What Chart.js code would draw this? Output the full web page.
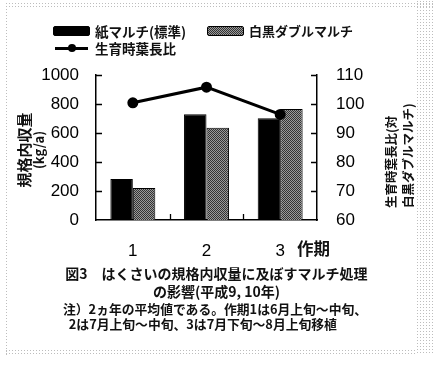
<!DOCTYPE html>
<html>
<head>
<meta charset="utf-8">
<script src="https://cdn.jsdelivr.net/npm/chart.js@4.4.0/dist/chart.umd.min.js"></script>
<style>
  html, body { margin: 0; padding: 0; background: #fff; }
  #wrap { position: relative; width: 433px; height: 365px; overflow: hidden; font-family: "Noto Sans CJK JP", sans-serif; font-weight: bold; color: #111; }
  #wrap canvas { position: absolute; left: 0; top: 0; }
  .dots { position: absolute; background: radial-gradient(circle, #bdbdbd 0 0.8px, transparent 1px) 0 0 / 3px 3px; }
  .abs { position: absolute; white-space: nowrap; }
  .swatch { position: absolute; height: 8px; width: 35px; border: 1px solid #000; border-radius: 2px; }
  .rot { position: absolute; transform-origin: 0 0; transform: rotate(-90deg); white-space: nowrap; }
</style>
</head>
<body>
<div id="wrap">
  <div class="dots" style="left:8px;top:2px;width:425px;height:5px"></div>
  <div class="dots" style="left:5px;top:2px;width:4px;height:353px"></div>
  <div class="dots" style="left:416px;top:0;width:17px;height:355px"></div>
  <div class="dots" style="left:5px;top:349px;width:412px;height:6px"></div>

  <canvas id="chart" width="433" height="365"></canvas>

  <!-- legend -->
  <div class="swatch" style="left:53px;top:26px;background:#000"></div>
  <div class="abs" style="left:95px;top:21px;font-size:13.5px">紙マルチ(標準)</div>
  <div class="swatch" style="left:207px;top:26px;background:repeating-conic-gradient(#333 0 25%, #9a9a9a 0 50%) 0 0 / 2px 2px"></div>
  <div class="abs" style="left:249px;top:21px;font-size:13px">白黒ダブルマルチ</div>
  <div class="abs" style="left:55px;top:46.5px;width:33px;height:3px;background:#000"></div>
  <div class="abs" style="left:68px;top:44px;width:8px;height:8px;border-radius:50%;background:#000"></div>
  <div class="abs" style="left:95px;top:38px;font-size:13.5px">生育時葉長比</div>

  <!-- axis titles -->
  <div class="rot" style="left:15px;top:189px;width:78px;text-align:center;font-size:15px;line-height:18px">規格内収量</div>
  <div class="rot" style="left:31px;top:189px;width:78px;text-align:center;font-size:13px;line-height:16px">(kg/a)</div>
  <div class="rot" style="left:382px;top:208px;font-size:12.5px;line-height:17px">生育時葉長比(対<br>白黒ダブルマルチ)</div>
  <div class="abs" style="left:297px;top:236px;font-size:16.5px">作期</div>

  <!-- caption -->
  <div class="abs" style="left:0;width:433px;text-align:center;top:264px;font-size:14px;line-height:18px">図3　はくさいの規格内収量に及ぼすマルチ処理<br>の影響(平成9, 10年)</div>
  <div class="abs" style="left:63px;top:301px;font-size:12.8px;line-height:15px">注）2ヵ年の平均値である。作期1は6月上旬～中旬、<br>&nbsp;&nbsp;2は7月上旬～中旬、3は7月下旬～8月上旬移植</div>
</div>

<script>
// data
const categories = ["1", "2", "3"];
const paperMulch = [283, 729, 701];        // 紙マルチ(標準) kg/a
const doubleMulch = [221, 637, 766];       // 白黒ダブルマルチ kg/a
const leafRatio = [100.4, 105.8, 96.4];    // 生育時葉長比
const leftTicks = [0, 200, 400, 600, 800, 1000];
const rightTicks = [60, 70, 80, 90, 100, 110];

// fine dark-grey stipple like the printed bars
function makeGrey() {
  const c = document.createElement("canvas");
  c.width = 2; c.height = 2;
  const g = c.getContext("2d");
  g.fillStyle = "#9a9a9a"; g.fillRect(0, 0, 2, 2);
  g.fillStyle = "#333"; g.fillRect(0, 0, 1, 1); g.fillRect(1, 1, 1, 1);
  return g.createPattern(c, "repeat");
}

// short tick marks pointing inward
const innerTicks = {
  id: "innerTicks",
  afterDatasetsDraw(chart) {
    const { ctx, chartArea: a, scales } = chart;
    ctx.save();
    ctx.strokeStyle = "#000";
    ctx.lineWidth = 1.3;
    ctx.beginPath();
    leftTicks.slice(1).forEach(v => {
      const y = Math.round(scales.y.getPixelForValue(v)) + 0.5;
      ctx.moveTo(a.left, y); ctx.lineTo(a.left + 6, y);
    });
    rightTicks.slice(1).forEach(v => {
      const y = Math.round(scales.y1.getPixelForValue(v)) + 0.5;
      ctx.moveTo(a.right, y); ctx.lineTo(a.right - 6, y);
    });
    for (let i = 1; i < categories.length; i++) {
      const x = Math.round((scales.x.getPixelForValue(i - 1) + scales.x.getPixelForValue(i)) / 2) + 0.5;
      ctx.moveTo(x, a.bottom); ctx.lineTo(x, a.bottom - 6);
    }
    ctx.stroke();
    ctx.restore();
  }
};

const tickFont = { family: "Liberation Sans", size: 17 };

new Chart(document.getElementById("chart"), {
  data: {
    labels: categories,
    datasets: [
      {
        type: "line",
        label: "生育時葉長比",
        data: leafRatio,
        yAxisID: "y1",
        borderColor: "#000",
        borderWidth: 3,
        pointRadius: 4,
        pointBackgroundColor: "#000",
        pointBorderColor: "#000",
        tension: 0,
        order: 0
      },
      {
        type: "bar",
        label: "紙マルチ(標準)",
        data: paperMulch,
        yAxisID: "y",
        backgroundColor: "#000",
        borderColor: "#000",
        borderWidth: 1,
        order: 1
      },
      {
        type: "bar",
        label: "白黒ダブルマルチ",
        data: doubleMulch,
        yAxisID: "y",
        backgroundColor: makeGrey(),
        borderColor: "#000",
        borderWidth: 1,
        order: 1
      }
    ]
  },
  options: {
    responsive: false,
    animation: false,
    datasets: { bar: { categoryPercentage: 0.61, barPercentage: 1.0 } },
    layout: { padding: { top: 75, left: 0, right: 0, bottom: 0 } },
    plugins: { legend: { display: false }, tooltip: { enabled: false } },
    scales: {
      x: {
        grid: { display: false, drawTicks: false },
        border: { display: true, color: "#000", width: 1.5 },
        ticks: { color: "#000", font: tickFont, padding: 21, maxRotation: 0 },
        afterFit: s => { s.height = 145; }
      },
      y: {
        position: "left",
        min: 0, max: 1000,
        grid: { display: false, drawTicks: false },
        border: { display: true, color: "#000", width: 1.5 },
        ticks: { color: "#000", font: tickFont, padding: 17, stepSize: 200, callback: v => String(v) },
        afterFit: s => { s.width = 96; }
      },
      y1: {
        position: "right",
        min: 60, max: 110,
        grid: { display: false, drawTicks: false },
        border: { display: true, color: "#000", width: 1.5 },
        ticks: { color: "#000", font: tickFont, padding: 19, stepSize: 10, callback: v => String(v) },
        afterFit: s => { s.width = 116; }
      }
    }
  },
  plugins: [innerTicks]
});
</script>
</body>
</html>
